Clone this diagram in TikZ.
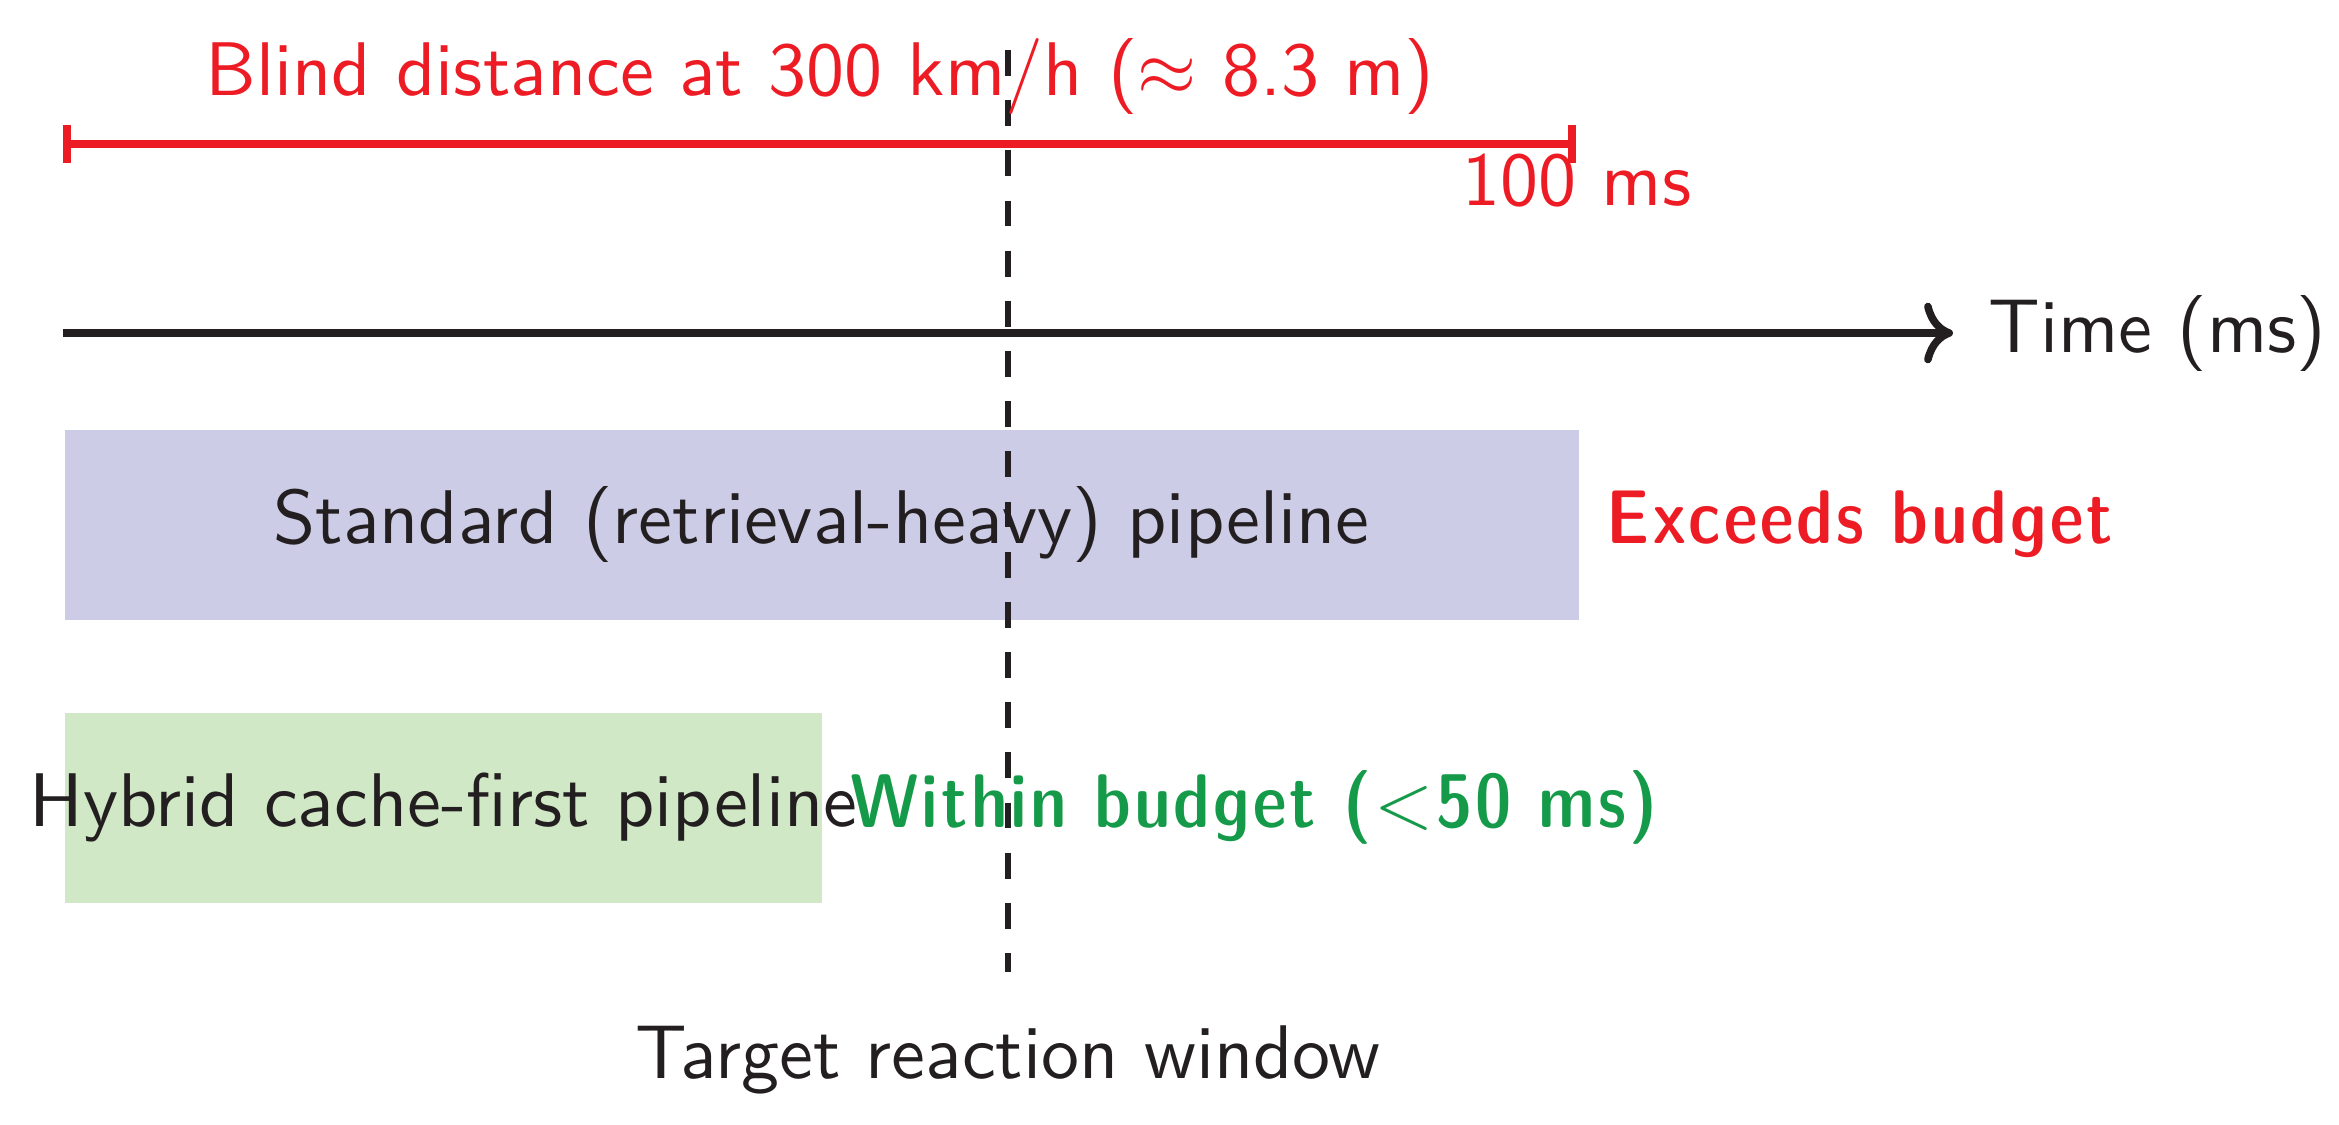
\documentclass[tikz,border=0pt]{standalone}
\usepackage{fontspec}
\usepackage{graphicx}
\IfFontExistsTF{lmsansdemicond10-regular.otf}
  {\newfontfamily\semiboldfam[LetterSpace=4]{lmsansdemicond10-regular.otf}
   \newcommand\semiboldtext[1]{{\semiboldfam #1}}}
  {\newcommand\semiboldtext[1]{\scalebox{0.937}[1]{\sffamily\bfseries #1}}}
\usetikzlibrary{arrows.meta}
\definecolor{ink}{RGB}{35,31,32}
\definecolor{alarm}{RGB}{237,28,36}
\definecolor{okgreen}{RGB}{20,154,72}
\definecolor{stdfill}{RGB}{205,204,230}
\definecolor{hybfill}{RGB}{209,232,198}
\tikzset{
  lbl/.style={font=\sffamily, text=ink, inner sep=0pt},
  boldlbl/.style={inner sep=0pt, anchor=west},
  barbox/.style={draw=none, inner sep=0pt, anchor=north west},
  redline/.style={draw=alarm, line width=1pt, {Bar[width=5pt]}-{Bar[width=5pt]}},
  axisline/.style={draw=ink, line width=1pt, ->},
  window/.style={draw=ink, line width=0.7pt, dash pattern=on 3.4pt off 3.2pt}
}
\begin{document}
\begin{tikzpicture}[x=0.004627cm, y=-0.004627cm]
\useasboundingbox (0,0) rectangle (2339,1124);
% bars
\node[barbox, fill=stdfill, minimum width=7cm, minimum height=0.879cm] (stdbox) at (63,428) {};
\node[barbox, fill=hybfill, minimum width=3.503cm, minimum height=0.879cm] (hybbox) at (63,711) {};
% dashed reaction window
\coordinate (wtop) at (1008,50);
\coordinate (wbot) at (1008,972);
\draw[window] (wtop) -- (wbot);
% blind distance interval
\coordinate (bl) at (63,144);
\coordinate (br) at (1576,144);
\draw[redline] (bl) -- (br);
% time axis
\coordinate (a0) at (63,333);
\coordinate (a1) at (1953,333);
\draw[axisline] (a0) -- (a1);
% labels
\node[lbl, text=alarm, anchor=base] (blind) at (820,95) {Blind distance at 300 km/h ($\approx$ 8.3 m)};
\node[lbl, text=alarm, anchor=base] (hundred) at (1577,205) {100 ms};
\node[lbl, anchor=base west] (time) at (1987,352) {Time (ms)};
\node[lbl] (stdtext) at (stdbox.center) {Standard (retrieval-heavy) pipeline};
\node[boldlbl, text=alarm] (exceeds) at ([xshift=3.33pt]stdbox.east) {\semiboldtext{Exceeds budget}};
\node[lbl] (hybtext) at (hybbox.center) {Hybrid cache-first pipeline};
\node[boldlbl, text=okgreen] (within) at ([xshift=3.33pt]hybbox.east) {\semiboldtext{Within budget (<50 ms)}};
\node[lbl, anchor=base] (target) at (1008,1078) {Target reaction window};
\end{tikzpicture}
\end{document}
